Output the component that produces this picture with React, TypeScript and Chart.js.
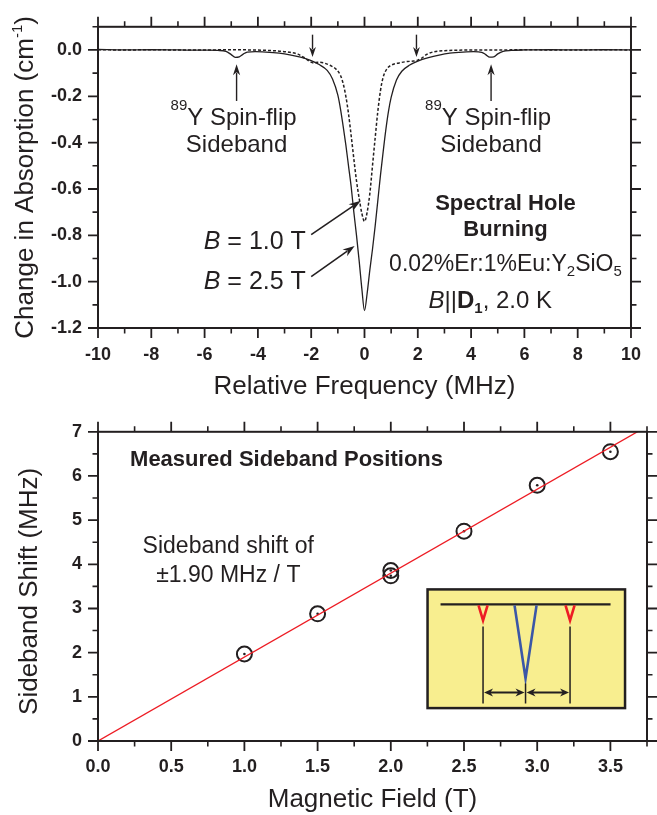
import React, { useEffect, useRef } from "react";
import { Chart, registerables } from "chart.js";

Chart.register(...registerables);

const INK = "#231f20";
const RED = "#ed1c24";
const BLUE = "#3b57a7";
const YELLOW = "#f8ee8f";
const SANS = "'Liberation Sans', Arial, Helvetica, sans-serif";

// ---------- Top panel: spectral hole burning ----------
const solidFreq = [-10, -9, -8, -7, -6, -5.5, -5.2, -5.0, -4.85, -4.7, -4.55, -4.4, -4.1, -3.7, -3.2, -2.8, -2.4, -2.0, -1.7, -1.4, -1.2, -1.0, -0.9, -0.8, -0.7, -0.6, -0.5, -0.4, -0.3, -0.2, -0.1, 0, 0.1, 0.2, 0.3, 0.4, 0.5, 0.6, 0.7, 0.8, 0.9, 1.0, 1.2, 1.4, 1.7, 2.0, 2.4, 2.8, 3.2, 3.7, 4.1, 4.4, 4.55, 4.7, 4.85, 5.0, 5.2, 5.5, 6, 7, 8, 9, 10];
const solidAbs = [0.002, 0, 0.001, 0, -0.001, -0.002, -0.006, -0.02, -0.032, -0.03, -0.018, -0.009, -0.007, -0.009, -0.014, -0.021, -0.031, -0.046, -0.063, -0.088, -0.125, -0.195, -0.255, -0.33, -0.41, -0.5, -0.59, -0.7, -0.8, -0.91, -1.03, -1.125, -1.05, -0.95, -0.86, -0.76, -0.65, -0.54, -0.44, -0.345, -0.265, -0.205, -0.13, -0.092, -0.065, -0.048, -0.033, -0.022, -0.014, -0.009, -0.007, -0.01, -0.02, -0.031, -0.03, -0.017, -0.006, -0.002, 0, 0.001, 0, 0.001, 0];
const dashedFreq = [-10, -9, -8, -7, -6, -5, -4.2, -3.6, -3.2, -2.8, -2.5, -2.25, -2.05, -1.9, -1.75, -1.5, -1.25, -1.05, -0.9, -0.8, -0.7, -0.6, -0.5, -0.4, -0.3, -0.2, -0.1, 0, 0.1, 0.2, 0.3, 0.4, 0.5, 0.6, 0.7, 0.85, 1.0, 1.3, 1.6, 1.85, 2.0, 2.15, 2.35, 2.6, 3.0, 3.5, 4, 5, 6, 7, 8, 9, 10];
const dashedAbs = [0.001, 0, 0.001, 0, 0, 0.001, 0, -0.002, -0.005, -0.01, -0.018, -0.034, -0.05, -0.056, -0.053, -0.057, -0.069, -0.085, -0.11, -0.145, -0.2, -0.275, -0.37, -0.47, -0.565, -0.64, -0.705, -0.74, -0.7, -0.62, -0.5, -0.38, -0.265, -0.175, -0.118, -0.08, -0.066, -0.056, -0.05, -0.048, -0.044, -0.035, -0.018, -0.008, -0.003, -0.001, 0, 0, 0.001, 0, 0, 0.001, 0];

const topXTicks = [-10, -8, -6, -4, -2, 0, 2, 4, 6, 8, 10];
const topXMinor = [-9, -7, -5, -3, -1, 1, 3, 5, 7, 9];
const topYTicks = [0, -0.2, -0.4, -0.6, -0.8, -1.0, -1.2];
const topYMinor = [0.1, -0.1, -0.3, -0.5, -0.7, -0.9, -1.1];

const spinFlipSidebands = [-4.8, 4.75]; // MHz, B = 2.5 T
const oneTeslaSidebands = [-1.95, 1.95]; // MHz, B = 1.0 T

// ---------- Bottom panel: sideband positions ----------
const fieldT = [1.0, 1.5, 2.0, 2.0, 2.5, 3.0, 3.5];
const shiftMHz = [1.97, 2.88, 3.86, 3.74, 4.75, 5.79, 6.55];
const fitField = [0, 3.75];
const fitShift = [0, 7.125];

const botXTicks = [0, 0.5, 1.0, 1.5, 2.0, 2.5, 3.0, 3.5];
const botXMinor = [0.25, 0.75, 1.25, 1.75, 2.25, 2.75, 3.25, 3.75];
const botYTicks = [0, 1, 2, 3, 4, 5, 6, 7];
const botYMinor = [0.5, 1.5, 2.5, 3.5, 4.5, 5.5, 6.5];

const TICK_FONT = { family: SANS, size: 18, weight: "bold" as const };

type Seg = { t: string; f: string; dy?: number };
const F = (size: number, weight = "normal", style = "normal") => `${style} ${weight} ${size}px ${SANS}`;

function richWidth(ctx: CanvasRenderingContext2D, segs: Seg[]) {
  let w = 0;
  for (const s of segs) {
    ctx.font = s.f;
    w += ctx.measureText(s.t).width;
  }
  return w;
}

function drawRich(ctx: CanvasRenderingContext2D, segs: Seg[], x: number, y: number, align: "left" | "center" | "right") {
  const w = richWidth(ctx, segs);
  let cx = align === "left" ? x : align === "center" ? x - w / 2 : x - w;
  ctx.textAlign = "left";
  ctx.textBaseline = "alphabetic";
  for (const s of segs) {
    ctx.font = s.f;
    ctx.fillText(s.t, cx, y + (s.dy || 0));
    cx += ctx.measureText(s.t).width;
  }
}

function head(ctx: CanvasRenderingContext2D, x1: number, y1: number, x2: number, y2: number, len: number, half: number) {
  const a = Math.atan2(y2 - y1, x2 - x1);
  const c = Math.cos(a), s = Math.sin(a);
  const bx = x2 - len * c, by = y2 - len * s;
  const nx = x2 - len * 0.7 * c, ny = y2 - len * 0.7 * s;
  ctx.beginPath();
  ctx.moveTo(x2, y2);
  ctx.lineTo(bx - half * s, by + half * c);
  ctx.lineTo(nx, ny);
  ctx.lineTo(bx + half * s, by - half * c);
  ctx.closePath();
  ctx.fill();
}

function arrow(ctx: CanvasRenderingContext2D, x1: number, y1: number, x2: number, y2: number, len = 11, half = 3.6, lw = 1.5) {
  const a = Math.atan2(y2 - y1, x2 - x1);
  ctx.lineWidth = lw;
  ctx.beginPath();
  ctx.moveTo(x1, y1);
  ctx.lineTo(x2 - len * 0.75 * Math.cos(a), y2 - len * 0.75 * Math.sin(a));
  ctx.stroke();
  head(ctx, x1, y1, x2, y2, len, half);
}

function framePlugin(xMajor: number[], xMinor: number[], yMajor: number[], yMinor: number[]) {
  return {
    id: "frameTicks",
    afterDraw(chart: any) {
      const { ctx, chartArea: a } = chart;
      const xs = chart.scales.x, ys = chart.scales.y;
      ctx.save();
      ctx.strokeStyle = INK;
      const vTicks = (vals: number[], len: number, w: number) => {
        ctx.lineWidth = w;
        ctx.beginPath();
        for (const v of vals) {
          const p = xs.getPixelForValue(v);
          ctx.moveTo(p, a.bottom);
          ctx.lineTo(p, a.bottom + len);
          ctx.moveTo(p, a.top);
          ctx.lineTo(p, a.top - len);
        }
        ctx.stroke();
      };
      const hTicks = (vals: number[], len: number, w: number) => {
        ctx.lineWidth = w;
        ctx.beginPath();
        for (const v of vals) {
          const p = ys.getPixelForValue(v);
          ctx.moveTo(a.left, p);
          ctx.lineTo(a.left - len, p);
          ctx.moveTo(a.right, p);
          ctx.lineTo(a.right + len, p);
        }
        ctx.stroke();
      };
      vTicks(xMajor, 10, 1.8);
      vTicks(xMinor, 5.5, 1.6);
      hTicks(yMajor, 10, 1.8);
      hTicks(yMinor, 5.5, 1.6);
      ctx.lineWidth = 2;
      ctx.strokeRect(a.left, a.top, a.right - a.left, a.bottom - a.top);
      ctx.restore();
    },
  };
}

const topNotes = {
  id: "topNotes",
  afterDraw(chart: any) {
    const { ctx, chartArea: a } = chart;
    const X = (v: number) => chart.scales.x.getPixelForValue(v);
    const Y = (v: number) => chart.scales.y.getPixelForValue(v);
    ctx.save();
    ctx.fillStyle = INK;
    ctx.strokeStyle = INK;

    for (const f of oneTeslaSidebands) arrow(ctx, X(f), Y(0.066), X(f), Y(-0.03), 10, 3.4, 1.4);
    for (const f of spinFlipSidebands) {
      arrow(ctx, X(f), Y(-0.22), X(f), Y(-0.062), 11, 3.6, 1.4);
      drawRich(ctx, [{ t: "89", f: F(15), dy: -15 }, { t: "Y Spin-flip", f: F(24) }], X(f) - 3, Y(-0.322), "center");
      drawRich(ctx, [{ t: "Sideband", f: F(24) }], X(f), Y(-0.44), "center");
    }

    drawRich(ctx, [{ t: "Spectral Hole", f: F(22, "bold") }], X(5.29), Y(-0.69), "center");
    drawRich(ctx, [{ t: "Burning", f: F(22, "bold") }], X(5.29), Y(-0.805), "center");
    drawRich(
      ctx,
      [
        { t: "0.02%Er:1%Eu:Y", f: F(23) },
        { t: "2", f: F(15), dy: 5 },
        { t: "SiO", f: F(23) },
        { t: "5", f: F(15), dy: 5 },
      ],
      X(5.29), Y(-0.953), "center"
    );
    drawRich(
      ctx,
      [
        { t: "B", f: F(24, "normal", "italic") },
        { t: "||", f: F(24) },
        { t: "D", f: F(24, "bold") },
        { t: "1", f: F(15, "bold"), dy: 5 },
        { t: ", 2.0 K", f: F(24) },
      ],
      X(4.72), Y(-1.112), "center"
    );

    drawRich(ctx, [{ t: "B", f: F(25, "normal", "italic") }, { t: " = 1.0 T", f: F(25) }], X(-2.2), Y(-0.86), "right");
    drawRich(ctx, [{ t: "B", f: F(25, "normal", "italic") }, { t: " = 2.5 T", f: F(25) }], X(-2.2), Y(-1.03), "right");
    arrow(ctx, X(-2.0), Y(-0.797), X(-0.14), Y(-0.651), 12, 4, 1.6);
    arrow(ctx, X(-2.0), Y(-0.978), X(-0.37), Y(-0.846), 12, 4, 1.6);

    // axis titles
    drawRich(ctx, [{ t: "Relative Frequency (MHz)", f: F(26) }], (a.left + a.right) / 2, 394, "center");
    ctx.save();
    ctx.translate(33, (a.top + a.bottom) / 2);
    ctx.rotate(-Math.PI / 2);
    drawRich(ctx, [{ t: "Change in Absorption (cm", f: F(26) }, { t: "-1", f: F(15), dy: -11 }, { t: ")", f: F(26) }], 0, 0, "center");
    ctx.restore();
    ctx.restore();
  },
};

const botNotes = {
  id: "botNotes",
  afterDraw(chart: any) {
    const { ctx, chartArea: a } = chart;
    const X = (v: number) => chart.scales.x.getPixelForValue(v);
    const Y = (v: number) => chart.scales.y.getPixelForValue(v);
    ctx.save();
    ctx.fillStyle = INK;
    ctx.strokeStyle = INK;
    drawRich(ctx, [{ t: "Measured Sideband Positions", f: F(22, "bold") }], X(0.219), Y(6.23), "left");
    drawRich(ctx, [{ t: "Sideband shift of", f: F(23) }], X(0.89), Y(4.245), "center");
    drawRich(ctx, [{ t: "\u00b11.90 MHz / T", f: F(23) }], X(0.89), Y(3.597), "center");

    // inset diagram
    const L = X(2.251), R = X(3.6), T = Y(3.432), B = Y(0.745);
    ctx.fillStyle = YELLOW;
    ctx.fillRect(L, T, R - L, B - T);
    ctx.lineWidth = 2.5;
    ctx.strokeStyle = INK;
    ctx.strokeRect(L, T, R - L, B - T);
    ctx.lineWidth = 2.2;
    ctx.beginPath();
    ctx.moveTo(L + 13, T + 15);
    ctx.lineTo(L + 183, T + 15);
    ctx.stroke();
    const vee = (x0: number, xt: number, x1: number, yt: number, col: string) => {
      ctx.strokeStyle = col;
      ctx.lineWidth = 2.6;
      ctx.lineJoin = "miter";
      ctx.beginPath();
      ctx.moveTo(L + x0, T + 16);
      ctx.lineTo(L + xt, T + yt);
      ctx.lineTo(L + x1, T + 16);
      ctx.stroke();
    };
    vee(51, 55.5, 60, 31, RED);
    vee(138, 142.5, 147, 31, RED);
    vee(87, 98, 109, 89, BLUE);
    ctx.strokeStyle = INK;
    ctx.fillStyle = INK;
    ctx.lineWidth = 1.5;
    ctx.beginPath();
    ctx.moveTo(L + 55.5, T + 37); ctx.lineTo(L + 55.5, T + 114);
    ctx.moveTo(L + 142.5, T + 37); ctx.lineTo(L + 142.5, T + 114);
    ctx.moveTo(L + 98, T + 94); ctx.lineTo(L + 98, T + 114);
    ctx.stroke();
    const yA = T + 103;
    const dbl = (x0: number, x1: number) => {
      ctx.lineWidth = 2;
      ctx.beginPath();
      ctx.moveTo(L + x0 + 5, yA);
      ctx.lineTo(L + x1 - 5, yA);
      ctx.stroke();
      head(ctx, L + x1, yA, L + x0 + 1, yA, 9, 4);
      head(ctx, L + x0, yA, L + x1 - 1, yA, 9, 4);
    };
    dbl(55.5, 98);
    dbl(98, 142.5);

    // axis titles
    ctx.fillStyle = INK;
    drawRich(ctx, [{ t: "Magnetic Field (T)", f: F(26) }], (a.left + a.right) / 2, 402, "center");
    ctx.save();
    ctx.translate(37, (a.top + a.bottom) / 2 + 5);
    ctx.rotate(-Math.PI / 2);
    drawRich(ctx, [{ t: "Sideband Shift (MHz)", f: F(26) }], 0, 0, "center");
    ctx.restore();
    ctx.restore();
  },
};

const pts = (xs: number[], ys: number[]) => xs.map((x, i) => ({ x, y: ys[i] }));

function axis(min: number, max: number, ticks: number[], fmt: (v: number) => string, padding: number, fit: (s: any) => void) {
  return {
    type: "linear" as const,
    min,
    max,
    grid: { display: false, drawTicks: false },
    border: { display: false },
    afterBuildTicks: (s: any) => {
      s.ticks = ticks.map((value) => ({ value }));
    },
    afterFit: fit,
    ticks: {
      autoSkip: false,
      maxRotation: 0,
      padding,
      color: INK,
      font: TICK_FONT,
      callback: (v: any) => fmt(Number(v)),
    },
  };
}

export default function App() {
  const topRef = useRef<HTMLCanvasElement>(null);
  const botRef = useRef<HTMLCanvasElement>(null);

  useEffect(() => {
    const top = new Chart(topRef.current as HTMLCanvasElement, {
      type: "scatter",
      data: {
        datasets: [
          {
            data: pts(solidFreq, solidAbs),
            showLine: true,
            borderColor: INK,
            borderWidth: 1.3,
            pointRadius: 0,
            cubicInterpolationMode: "monotone",
          },
          {
            data: pts(dashedFreq, dashedAbs),
            showLine: true,
            borderColor: INK,
            borderWidth: 1.5,
            borderDash: [3, 2],
            pointRadius: 0,
            cubicInterpolationMode: "monotone",
          },
        ],
      } as any,
      options: {
        animation: false,
        responsive: false,
        events: [],
        layout: { padding: { top: 17, right: 11, bottom: 0, left: 0 } },
        plugins: { legend: { display: false }, tooltip: { enabled: false } },
        scales: {
          x: axis(-10, 10, topXTicks, (v) => String(v), 16, (s: any) => { s.height = 77; }),
          y: axis(-1.2, 0.1, topYTicks, (v) => v.toFixed(1), 16, (s: any) => { s.width = 98; }),
        },
      } as any,
      plugins: [framePlugin(topXTicks, topXMinor, topYTicks, topYMinor), topNotes],
    });

    const bot = new Chart(botRef.current as HTMLCanvasElement, {
      type: "scatter",
      data: {
        datasets: [
          {
            data: pts(fitField, fitShift),
            showLine: true,
            borderColor: RED,
            borderWidth: 1.3,
            pointRadius: 0,
            order: 0,
          },
          {
            data: pts(fieldT, shiftMHz),
            pointRadius: 7.5,
            pointBorderWidth: 2,
            pointBorderColor: INK,
            pointBackgroundColor: "rgba(0,0,0,0)",
            order: 1,
          },
          {
            data: pts(fieldT, shiftMHz),
            pointRadius: 1.3,
            pointBorderWidth: 0,
            pointBackgroundColor: INK,
            order: 2,
          },
        ],
      } as any,
      options: {
        animation: false,
        responsive: false,
        events: [],
        layout: { padding: { top: 26, right: 10, bottom: 0, left: 0 } },
        plugins: { legend: { display: false }, tooltip: { enabled: false } },
        scales: {
          x: axis(0, 3.75, botXTicks, (v) => v.toFixed(1), 15, (s: any) => { s.height = 74; }),
          y: axis(0, 7, botYTicks, (v) => String(v), 16, (s: any) => { s.width = 98; }),
        },
      } as any,
      plugins: [framePlugin(botXTicks, botXMinor, botYTicks, botYMinor), botNotes],
    });

    return () => {
      top.destroy();
      bot.destroy();
    };
  }, []);

  return (
    <div style={{ position: "absolute", left: 0, top: 0, width: 657, height: 815, background: "#fff" }}>
      <canvas ref={topRef} width={657} height={405} style={{ position: "absolute", left: 0, top: 0, width: 657, height: 405 }} />
      <canvas ref={botRef} width={657} height={410} style={{ position: "absolute", left: 0, top: 405, width: 657, height: 410 }} />
    </div>
  );
}
